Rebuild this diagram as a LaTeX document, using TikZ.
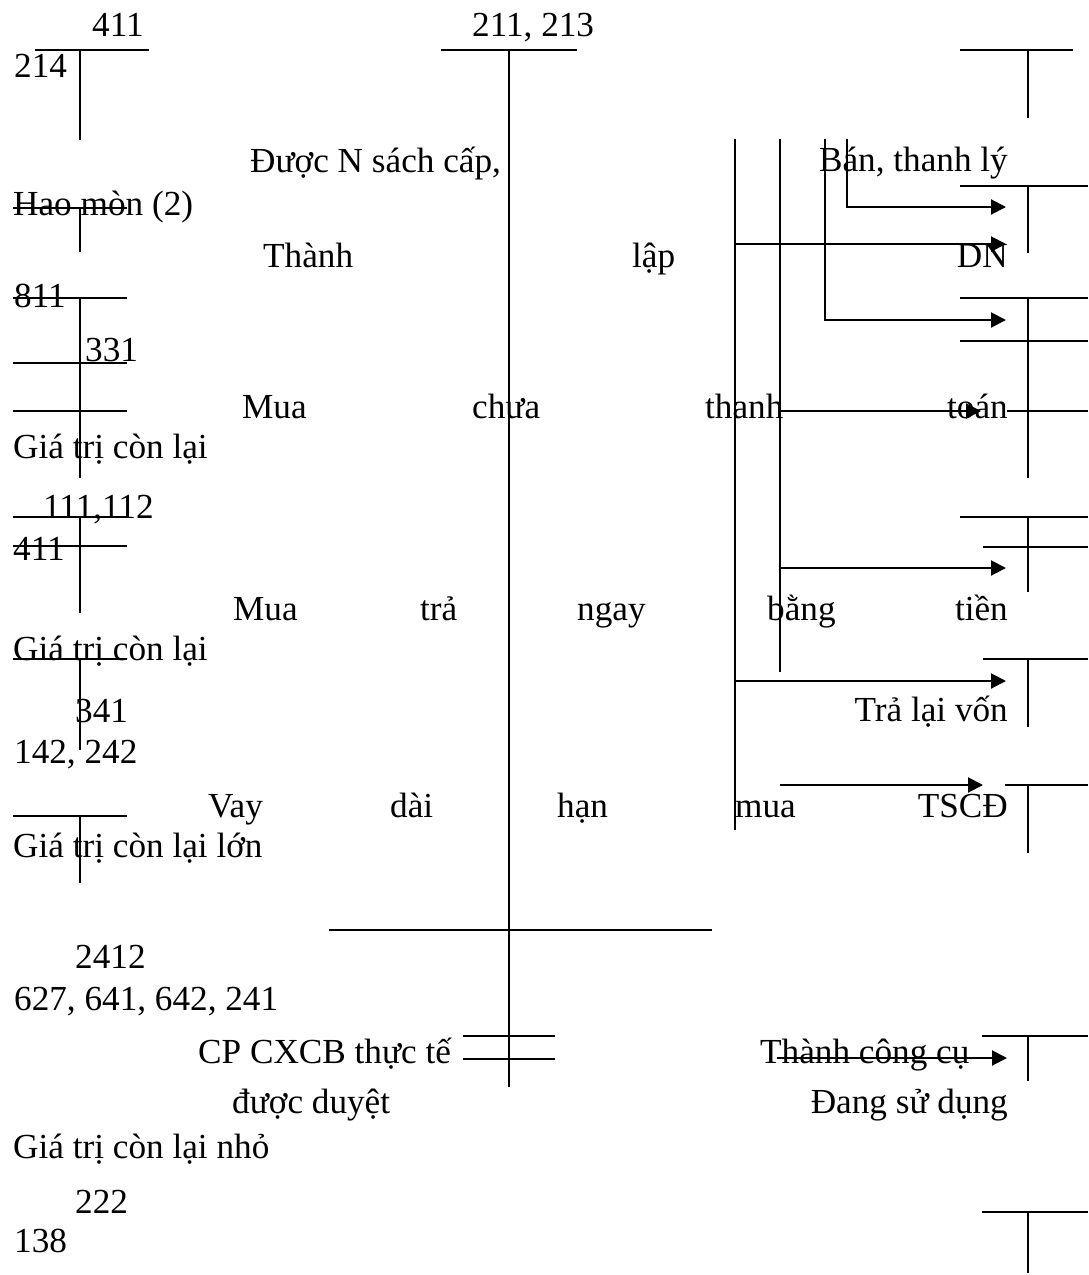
\documentclass[tikz,border=0pt]{standalone}
\usepackage{fontspec}
\setmainfont{Liberation Serif}
\usetikzlibrary{arrows.meta}
\newcommand\fsz{\fontsize{35.2}{40}\selectfont}
\begin{document}
\begin{tikzpicture}[x=1pt,y=-1pt,
  lbl/.style={anchor=base west,inner sep=0pt,font=\fsz},
  rlbl/.style={anchor=base east,inner sep=0pt,font=\fsz},
  bar/.style={line width=2pt},
  arr/.style={line width=2pt,-{Triangle[length=15pt,width=15pt]}}]
\useasboundingbox[fill=white] (0,0) rectangle (1088,1275);

% ---------- labels ----------
\node[lbl] (t411a) at (92,36) {411};
\node[lbl] (t211) at (472,36) {211, 213};
\node[lbl] (t214) at (14,77) {214};
\node[lbl] (tduoc) at (250,172) {Được N sách cấp,};
\node[rlbl] (tban) at (1008,171) {Bán, thanh lý};
\node[lbl] (thao) at (13,215) {Hao mòn (2)};
\node[lbl] (tthanh) at (263,267) {Thành};
\node[lbl] (tlap) at (632,267) {lập};
\node[rlbl] (tdn) at (1008,267) {DN};
\node[lbl] (t811) at (14,307) {811};
\node[lbl] (t331) at (85,361) {331};
\node[lbl] (tmua1) at (242,418) {Mua};
\node[lbl] (tchua) at (472,418) {chưa};
\node[lbl] (tthanh2) at (705,418) {thanh};
\node[rlbl] (ttoan) at (1008,418) {toán};
\node[lbl] (tgia1) at (13,458) {Giá trị còn lại};
\node[lbl] (t111) at (43,518) {111,112};
\node[lbl] (t411b) at (13,560) {411};
\node[lbl] (tmua2) at (233,620) {Mua};
\node[lbl] (ttra) at (420,620) {trả};
\node[lbl] (tngay) at (577,620) {ngay};
\node[lbl] (tbang) at (767,620) {bằng};
\node[rlbl] (ttien) at (1008,620) {tiền};
\node[lbl] (tgia2) at (13,660) {Giá trị còn lại};
\node[lbl] (t341) at (75,722) {341};
\node[rlbl] (ttralai) at (1008,721) {Trả lại vốn};
\node[lbl] (t142) at (14,763) {142, 242};
\node[lbl] (tvay) at (208,817) {Vay};
\node[lbl] (tdai) at (390,817) {dài};
\node[lbl] (than) at (557,817) {hạn};
\node[lbl] (tmua3) at (735,817) {mua};
\node[rlbl] (ttscd) at (1008,817) {TSCĐ};
\node[lbl] (tgia3) at (13,857) {Giá trị còn lại lớn};
\node[lbl] (t2412) at (75,968) {2412};
\node[lbl] (t627) at (14,1010) {627, 641, 642, 241};
\node[lbl] (tcp) at (198,1063) {CP CXCB thực tế};
\node[lbl] (tcongcu) at (760,1063) {Thành công cụ};
\node[lbl] (tduyet) at (232,1113) {được duyệt};
\node[rlbl] (tdang) at (1008,1113) {Đang sử dụng};
\node[lbl] (tgia4) at (13,1158) {Giá trị còn lại nhỏ};
\node[lbl] (t222) at (75,1213) {222};
\node[lbl] (t138) at (14,1252) {138};

% ---------- left T-accounts ----------
\draw[bar] (35,50) -- (149,50) (80,50) -- (80,140);
\draw[bar] (13,208) -- (127,208) (80,208) -- (80,252);
\draw[bar] (13,298) -- (127,298) (80,298) -- (80,478);
\draw[bar] (13,363) -- (127,363);
\draw[bar] (13,411) -- (127,411);
\draw[bar] (13,517) -- (127,517) (80,517) -- (80,613);
\draw[bar] (13,546) -- (127,546);
\draw[bar] (13,659) -- (127,659) (80,659) -- (80,750);
\draw[bar] (13,816) -- (127,816) (80,816) -- (80,883);

% ---------- main account 211, 213 ----------
\draw[bar] (441,50) -- (577,50) (509,50) -- (509,1087);
\draw[bar] (329,930) -- (712,930);
\draw[bar] (463,1036) -- (555,1036) (463,1059) -- (555,1059);

% ---------- right side flow lines ----------
\coordinate (v1top) at (735,139);
\coordinate (v2top) at (780,139);
\coordinate (v3top) at (825,139);
\coordinate (v4top) at (847,139);
\draw[bar] (v1top) -- (735,830);
\draw[bar] (v2top) -- (780,672);
\coordinate (a1e) at (1006,207);
\coordinate (a2e) at (1006,244);
\coordinate (a3e) at (1006,320);
\coordinate (a4e) at (981,411);
\coordinate (a5e) at (1006,568);
\coordinate (a6e) at (1006,681);
\coordinate (a7s) at (780,785);
\coordinate (a7e) at (983,785);
\coordinate (a8s) at (777,1058);
\coordinate (a8e) at (1007,1058);
\draw[arr] (v4top) |- (a1e);
\draw[arr] (735,244) -- (a2e);
\draw[arr] (v3top) |- (a3e);
\draw[arr] (780,411) -- (a4e);
\draw[arr] (780,568) -- (a5e);
\draw[arr] (735,681) -- (a6e);
\draw[arr] (a7s) -- (a7e);
\draw[arr] (a8s) -- (a8e);

% ---------- right T-accounts ----------
\draw[bar] (960,50) -- (1073,50) (1028,50) -- (1028,118);
\draw[bar] (960,186) -- (1088,186) (1028,186) -- (1028,253);
\draw[bar] (960,298) -- (1088,298) (1028,298) -- (1028,478);
\draw[bar] (960,341) -- (1088,341);
\draw[bar] (1007,411) -- (1088,411);
\draw[bar] (960,517) -- (1088,517) (1028,517) -- (1028,592);
\draw[bar] (983,547) -- (1088,547);
\draw[bar] (983,659) -- (1088,659) (1028,659) -- (1028,727);
\draw[bar] (1005,785) -- (1088,785) (1028,785) -- (1028,853);
\draw[bar] (982,1036) -- (1088,1036) (1028,1036) -- (1028,1081);
\draw[bar] (982,1212) -- (1088,1212) (1028,1212) -- (1028,1273);
\end{tikzpicture}
\end{document}
